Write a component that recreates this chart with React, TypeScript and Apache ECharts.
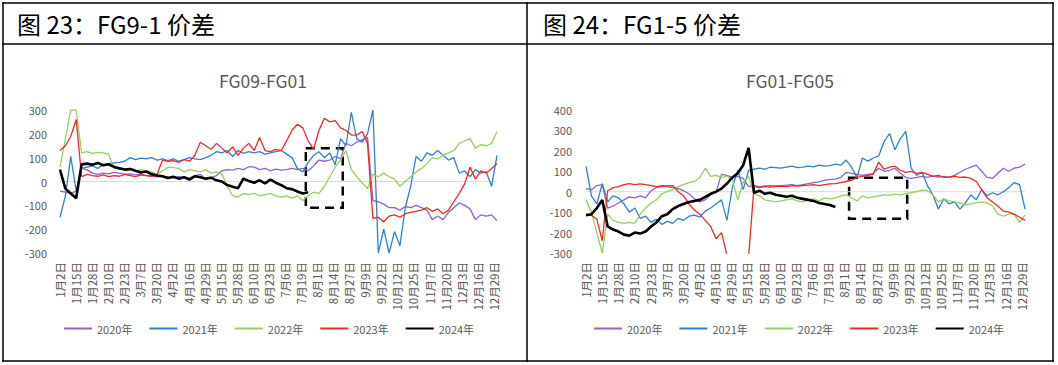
import React, { useEffect, useRef } from "react";
import * as echarts from "echarts";

// ---------- categories / labels ----------
const dateLabels = [
  "1月2日", "1月15日", "1月28日", "2月10日", "2月23日", "3月7日", "3月20日",
  "4月2日", "4月16日", "4月29日", "5月15日", "5月28日", "6月10日", "6月23日",
  "7月6日", "7月19日", "8月1日", "8月14日", "8月27日", "9月9日", "9月22日",
  "10月12日", "10月25日", "11月7日", "11月20日", "12月3日", "12月16日", "12月29日",
];
const years = ["2020年", "2021年", "2022年", "2023年", "2024年"];

// ---------- FG09-FG01 (left) : 82 samples across the year ----------
const fg91_2020 = [
  -40, -45, -50, -40, 55, 50, 35, 30, 35, 32,
  38, 35, 30, 32, 28, 30, 25, 22, 20, 22,
  18, 15, 20, 18, 15, 25, 30, 10, 15, 25,
  45, 50, 48, 55, 50, 62, 60, 50, 55, 45,
  52, 48, 50, 55, 50, 55, 45, 65, 90, 85,
  90, 105, 95, 160, 150, 165, 175, 185, -80, -85,
  -95, -110, -110, -120, -105, -110, -100, -110, -120, -160,
  -145, -160, -130, -110, -90, -100, -115, -160, -140, -145,
  -140, -165,
];
const fg91_2021 = [
  -150, -60, 105, -40, 55, 60, 65, 55, 70, 75,
  78, 80, 85, 100, 92, 98, 95, 100, 90, 95,
  88, 95, 85, 92, 100, 95, 92, 100, 110, 125,
  120, 130, 105, 130, 118, 125, 120, 125, 115, 120,
  125, 130, 115, 100, 55, 40, 80, 110, 125, 100,
  120, 70, 180, 150, 290, 180, 165, 200, 300, -300,
  -200, -300, -210, -270, -110, -20, 105, 85, 120, 110,
  130, 110, 90, 100, 35, 45, 20, 50, 35, 40,
  -20, 110,
];
const fg91_2022 = [
  60, 180, 300, 300, 120, 125, 118, 122, 120, 115,
  55, 60, 50, 55, 45, 50, 45, 40, 30, 45,
  60, 58, 55, 40, 50, 45, 40, 50, 35, 40,
  30, -20, -60, -65, -50, -55, -50, -60, -55, -50,
  -60, -65, -60, -70, -60, -80, -60, -45, -50, -20,
  20, 60, 90, 130, 50, 20, -5, -30, 30, 20,
  35, 20, 10, -20, 0, 20, 40, 55, 75, 100,
  95, 110, 120, 130, 160, 170, 180, 140, 155, 150,
  160, 210,
];
const fg91_2023 = [
  130, 150, 190, 260, 20, 30, 25, 22, 28, 20,
  25, 22, 30, 25, 20, 28, 25, 22, 30, 90,
  85, 88, 80, 92, 85, 110, 165, 150, 135, 160,
  140, 120, 145, 110, 140, 160, 130, 185, 130, 125,
  135, 130, 170, 215, 240, 225, 170, 135, 215, 265,
  250, 255, 225, 215, 195, 195, 210, 160, -155, -150,
  -170, -145, -140, -150, -135, -130, -125, -120, -110, -125,
  -115, -135, -120, -85, -50, -10, 60, 10, 45, 35,
  55, 75,
];
const fg91_2024 = [
  50, -30, -50, -70, 72, 75, 70, 78, 68, 72,
  62, 55, 50, 52, 45, 38, 42, 30, 25, 22,
  15, 20, 12, 18, 8, 22, 18, 12, 16, 5,
  0, -15, -22, -28, 12, 2, -5, 5, -8, 8,
  -5, -15, -28, -32, -42, -50, -45,
];

// ---------- FG01-FG05 (right) ----------
const fg15_2020 = [
  15, 10, 30, 35, -80, -70, -55, -40, -25, -30,
  -20, -30, 5, 20, 25, 25, 20, 15, 5, -10,
  -35, -50, -40, -15, 0, 85, 80, 70, 75, 65,
  25, 30, 25, 28, 30, 28, 30, 32, 35, 30,
  35, 40, 45, 48, 55, 60, 62, 70, 95, 90,
  85, 80, 85, 90, 115, 100, 105, 115, 90, 70,
  65, 70, 75, 70, 78, 72, 75, 70, 80, 95,
  110, 120, 130, 100, 70, 65, 90, 115, 100, 115,
  120, 135,
];
const fg15_2021 = [
  125, -20, -60, 40, -50, -20, -30, -60, -100, -80,
  -130, -120, -150, -135, -160, -145, -155, -130, -140, -120,
  -115, -125, -95, -80, -60, -40, -140, 20, 105, 10,
  105, 110, 115, 110, 120, 118, 115, 120, 125, 118,
  120, 125, 122, 130, 125, 128, 135, 130, 155, 120,
  70, 165, 150, 165, 175, 245, 285, 205, 260, 295,
  115, 80, 95, 30, -15, -85, -35, -60, -50, -85,
  -55, -15, -40, 10, -20, -5, -15, 0, 20, 45,
  35, -85,
];
const fg15_2022 = [
  -40, -100, -200, -300, -110, -140, -150, -155, -150, -155,
  -110, -80, -55, -40, -10, 0, 10, 25, 35, 45,
  50, 70, 115, 75, 80, 70, 75, 60, -40, 45,
  75, -10, -20, -40, -45, -50, -45, -40, -35, -45,
  -50, -40, -35, -45, -30, -35, -30, -20, -15, -30,
  -45, -20, -30, -25, -20, -15, -18, -12, -15, -10,
  -5, 0, 8, 5, -15, -50, -35, -45, -50, -55,
  -65, -60, -55, -50, -55, -70, -110, -120, -110, -110,
  -150, -115,
];
const fg15_2023 = [
  -110, -115, -135, -240, 5, 20, 25, 35, 40, 35,
  38, 35, 30, 25, 30, 28, 30, 0, -20, -60,
  -90, -110, -140, -170, -230, -200, -310, -340, -350, -340,
  -320, 25, 20, 25, 22, 25, 28, 25, 30, 28,
  30, 32, 35, 30, 35, 38, 40, 45, 50, 55,
  70, 75, 80, 85, 145, 110, 120, 125, 105, 95,
  100, 90, 95, 85, 75, 80, 70, 72, 75, 70,
  72, 65, 50, 10, -30, -50, -70, -95, -100, -110,
  -125, -140,
];
const fg15_2024 = [
  -115, -110, -80, -40, -170, -185, -195, -210, -215, -200,
  -205, -195, -170, -150, -120, -110, -85, -70, -60, -50,
  -45, -40, -25, -10, 0, 15, 40, 70, 90, 130,
  215, -5, 5, -10, -5, -15, -20, -25, -20, -30,
  -35, -40, -45, -55, -60, -65, -75,
];

// dashed highlight boxes (data coordinates: label index / value)
const box91 = { x0: 15.3, x1: 17.6, yTop: 139, yBottom: -110 };
const box15 = { x0: 16.3, x1: 19.9, yTop: 68, yBottom: -132 };

const X_MAX = 27.2;
const SAMPLES = 81;
const colors = ["#9063c8", "#2e82cf", "#96d060", "#f02828", "#000000"];
const FONT = '"Microsoft YaHei", "Noto Sans CJK SC", "Noto Sans", sans-serif';
const GREY = "#595959";

function buildSeries(sets: number[][], gi: number, box: any) {
  const out: any[] = [
    {
      type: "line",
      name: "zero",
      xAxisIndex: gi,
      yAxisIndex: gi,
      data: [[0, 0], [X_MAX, 0]],
      symbol: "none",
      silent: true,
      lineStyle: { color: "#d9d9d9", width: 1 },
      z: 1,
    },
  ];
  sets.forEach((arr, j) => {
    const s: any = {
      type: "line",
      name: years[j],
      xAxisIndex: gi,
      yAxisIndex: gi,
      data: arr.map((v, i) => [(i * X_MAX) / SAMPLES, v]),
      symbol: "none",
      lineStyle: { color: colors[j], width: j === 4 ? 2.6 : 1.3 },
      itemStyle: { color: colors[j] },
      z: 2 + j,
    };
    if (j === 4) {
      s.markArea = {
        silent: true,
        itemStyle: {
          color: "rgba(0,0,0,0)",
          borderColor: "#000",
          borderWidth: 2.5,
          borderType: [9, 6],
        },
        data: [[{ xAxis: box.x0, yAxis: box.yTop }, { xAxis: box.x1, yAxis: box.yBottom }]],
      };
    }
    out.push(s);
  });
  return out;
}

function xAxisFor(gi: number) {
  return {
    gridIndex: gi,
    type: "value",
    min: 0,
    max: X_MAX,
    interval: 1,
    axisLine: { show: false },
    axisTick: { show: false },
    splitLine: { show: false },
    axisLabel: {
      rotate: 90,
      margin: 9,
      fontSize: 11.5,
      color: GREY,
      fontFamily: FONT,
      showMaxLabel: false,
      formatter: (v: number) => {
        const r = Math.round(v);
        return Math.abs(v - r) < 1e-6 && dateLabels[r] ? dateLabels[r] : "";
      },
    },
  };
}

function yAxisFor(gi: number, min: number, max: number, margin: number) {
  return {
    gridIndex: gi,
    type: "value",
    min,
    max,
    interval: 100,
    axisLine: { show: false },
    axisTick: { show: false },
    splitLine: { show: false },
    axisLabel: { fontSize: 11, color: GREY, fontFamily: FONT, margin },
  };
}

const line = (x1: number, y1: number, x2: number, y2: number) => ({
  type: "line",
  shape: { x1, y1, x2, y2 },
  style: { stroke: "#000", lineWidth: 1.5 },
  silent: true,
});

export default function App() {
  const ref = useRef<HTMLDivElement>(null);
  useEffect(() => {
    document.body.style.margin = "0";
    const chart = echarts.init(ref.current!, null, { renderer: "svg" });
    const legendBase = {
      data: years,
      top: 323,
      padding: 0,
      itemWidth: 28,
      itemHeight: 12,
      itemGap: 16,
      selectedMode: false,
      itemStyle: { opacity: 0 },
      textStyle: { fontSize: 11, color: GREY, fontFamily: FONT },
    };
    chart.setOption({
      animation: false,
      backgroundColor: "#ffffff",
      grid: [
        { left: 60, width: 437, top: 110, height: 143 },
        { left: 586, width: 439, top: 110, height: 143 },
      ],
      xAxis: [xAxisFor(0), xAxisFor(1)],
      yAxis: [yAxisFor(0, -300, 300, 13), yAxisFor(1, -300, 400, 14)],
      legend: [
        { ...legendBase, left: 63 },
        { ...legendBase, left: 593 },
      ],
      series: [
        ...buildSeries([fg91_2020, fg91_2021, fg91_2022, fg91_2023, fg91_2024], 0, box91),
        ...buildSeries([fg15_2020, fg15_2021, fg15_2022, fg15_2023, fg15_2024], 1, box15),
      ],
      graphic: [
        line(2, 3, 1054, 3),
        line(2, 44, 1054, 44),
        line(2, 361, 1054, 361),
        line(3, 2, 3, 362),
        line(527, 2, 527, 362),
        line(1053, 2, 1053, 362),
        {
          type: "text",
          x: 17,
          y: 23,
          style: { text: "图 23：FG9-1 价差", fontSize: 24, fontFamily: FONT, fill: "#000", verticalAlign: "middle" },
        },
        {
          type: "text",
          x: 543,
          y: 23,
          style: { text: "图 24：FG1-5 价差", fontSize: 24, fontFamily: FONT, fill: "#000", verticalAlign: "middle" },
        },
        {
          type: "text",
          x: 263,
          y: 80,
          style: { text: "FG09-FG01", fontSize: 17.5, fontFamily: FONT, fill: GREY, align: "center", verticalAlign: "middle" },
        },
        {
          type: "text",
          x: 790,
          y: 80,
          style: { text: "FG01-FG05", fontSize: 17.5, fontFamily: FONT, fill: GREY, align: "center", verticalAlign: "middle" },
        },
      ],
    });
    return () => chart.dispose();
  }, []);
  return <div ref={ref} style={{ width: 1058, height: 365 }} />;
}
